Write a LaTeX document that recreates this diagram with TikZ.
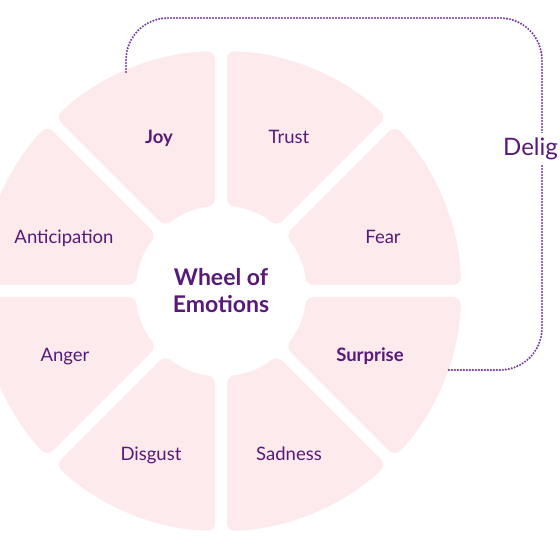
\documentclass[tikz,border=0pt]{standalone}
\usepackage{fontspec}
\setmainfont{Lato}
\usetikzlibrary{calc}
\definecolor{wfill}{HTML}{FDEAEC}
\definecolor{wtext}{HTML}{581A7A}
\definecolor{wdot}{HTML}{7438A2}
\tikzset{
  sector/.style={fill=wfill, rounded corners=8pt},
  lbl/.style={text=wtext, font=\fontsize{18.5}{20}\selectfont, inner sep=0pt, anchor=base},
  blbl/.style={lbl, font=\fontsize{18.5}{20}\selectfont\bfseries},
  dotline/.style={draw=wdot, line width=2.3pt, line cap=round, dash pattern=on 0pt off 3pt, rounded corners=42pt}
}
\begin{document}
\begin{tikzpicture}[x=1pt,y=1pt]
\useasboundingbox (0,0) rectangle (560,560);
\fill[white] (0,0) rectangle (560,560);
\clip (0,0) rectangle (560,560);
\coordinate (C) at (221,269);
\pgfmathsetmacro{\Ro}{240}
\pgfmathsetmacro{\Ri}{85}
\pgfmathsetmacro{\dR}{asin(6/240)}
\pgfmathsetmacro{\dr}{asin(6/85)}
\foreach \a in {0,45,...,315}{
  \pgfmathsetmacro{\sa}{\a+\dR}
  \pgfmathsetmacro{\ea}{\a+45-\dR}
  \pgfmathsetmacro{\si}{\a+45-\dr}
  \pgfmathsetmacro{\ei}{\a+\dr}
  \fill[sector] ($(C)+(\sa:\Ro)$) arc[start angle=\sa, end angle=\ea, radius=\Ro]
     -- ($(C)+(\si:\Ri)$) arc[start angle=\si, end angle=\ei, radius=\Ri] -- cycle;
}
% dotted connector
\coordinate (dstart) at (126,488);
\coordinate (dend) at (448,190);
\draw[dotline] (dstart) -- (126,542) -- (542,542) -- (542,190) -- (dend);
\node[text=wtext, anchor=west, fill=white, inner xsep=0pt, inner ysep=5pt, font=\fontsize{24}{26}\selectfont] (delight) at (503,411) {Delig};
% labels
\node[blbl] (joy) at (159,416) {Joy};
\node[lbl] (trust) at (289,416) {Trust};
\node[lbl] (fear) at (383,316) {Fear};
\node[blbl] (surprise) at (370,198) {Surprise};
\node[lbl] (sadness) at (289,99) {Sadness};
\node[lbl] (disgust) at (151,99) {Disgust};
\node[lbl] (anger) at (65,198) {Anger};
\node[lbl] (anticipation) at (64,316) {Anticipation};
\node[text=wtext, inner sep=0pt, align=center, font=\fontsize{23}{27}\selectfont\bfseries] (center) at (C) {Wheel of\\Emotions};
\end{tikzpicture}
\end{document}
